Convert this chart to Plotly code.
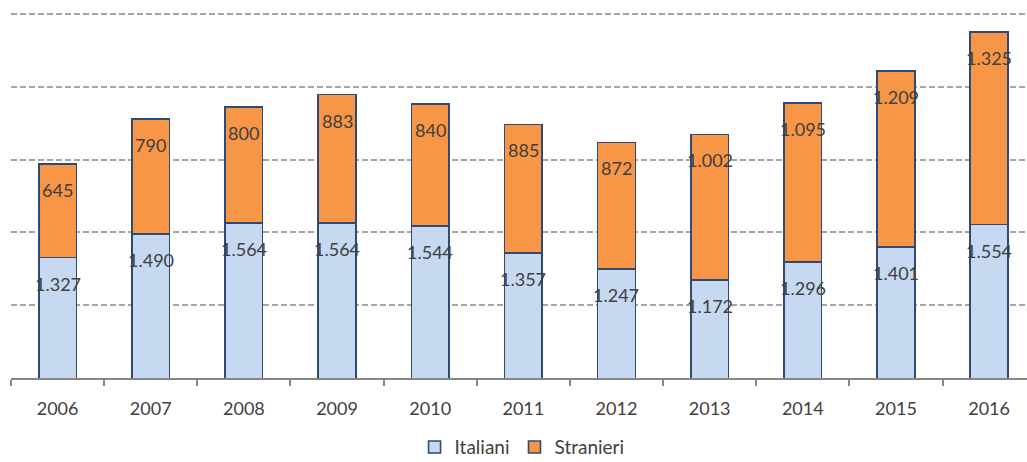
import plotly.graph_objects as go

# Presenze per anno: cittadini italiani e stranieri
anni = ["2006", "2007", "2008", "2009", "2010", "2011", "2012", "2013", "2014", "2015", "2016"]
italiani = [1327, 1490, 1564, 1564, 1544, 1357, 1247, 1172, 1296, 1401, 1554]
stranieri = [645, 790, 800, 883, 840, 885, 872, 1002, 1095, 1209, 1325]


def fmt_it(v):
    return f"{v:,}".replace(",", ".")


FONT = "Lato"
TEXT_COL = "#404040"
EDGE = "#2F4B73"

fig = go.Figure()
fig.add_trace(go.Bar(
    x=anni, y=italiani, name="Italiani",
    marker=dict(color="#C6D9F1", line=dict(color=EDGE, width=1.6)),
))
fig.add_trace(go.Bar(
    x=anni, y=stranieri, name="Stranieri",
    marker=dict(color="#F79646", line=dict(color=EDGE, width=1.6)),
))

# Value labels just inside the top of each segment
for i, (it, st) in enumerate(zip(italiani, stranieri)):
    for top, val in ((it, it), (it + st, st)):
        fig.add_annotation(
            x=i, y=top, xref="x", yref="y", text=fmt_it(val),
            showarrow=False, yanchor="middle", yshift=-26,
            font=dict(family=FONT, size=18, color=TEXT_COL),
        )

fig.update_layout(
    width=1027, height=462,
    margin=dict(l=11, r=0, t=12, b=84, autoexpand=False),
    paper_bgcolor="white", plot_bgcolor="white",
    barmode="stack", bargap=0.596,
    font=dict(family=FONT, size=18, color=TEXT_COL),
    legend=dict(
        orientation="h", x=0.503, xanchor="center",
        yref="container", y=0.032, yanchor="middle",
        font=dict(family=FONT, size=19, color=TEXT_COL),
        itemwidth=30, traceorder="normal",
    ),
    xaxis=dict(
        type="category", range=[-0.5, 10.407],
        showline=True, linecolor="#868686", linewidth=1.5,
        ticks="outside", tickson="boundaries", ticklen=6, tickcolor="#868686", tickwidth=1.5,
        ticklabelstandoff=14,
        showgrid=False, tickfont=dict(family=FONT, size=18, color=TEXT_COL),
    ),
    yaxis=dict(
        range=[500, 3015], dtick=500, tick0=0,
        showticklabels=False, showline=False, zeroline=False,
        showgrid=True, gridcolor="#A6A6A6", gridwidth=1.5, griddash="6px,3px",
    ),
)

fig.write_html("out.html")
